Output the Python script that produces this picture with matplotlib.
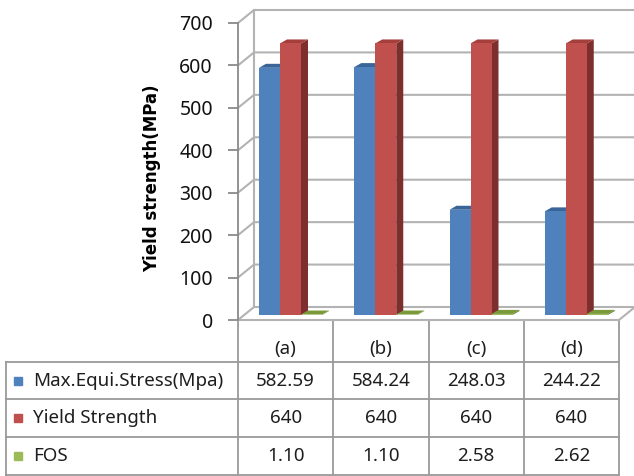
import matplotlib.pyplot as plt
from matplotlib.patches import Polygon, Rectangle

categories = ['(a)', '(b)', '(c)', '(d)']
series_names = ['Max.Equi.Stress(Mpa)', 'Yield Strength', 'FOS']
max_stress = [582.59, 584.24, 248.03, 244.22]
yield_strength = [640, 640, 640, 640]
fos = [1.10, 1.10, 2.58, 2.62]
table_text = [['582.59', '584.24', '248.03', '244.22'],
              ['640', '640', '640', '640'],
              ['1.10', '1.10', '2.58', '2.62']]
y_ticks = [0, 100, 200, 300, 400, 500, 600, 700]

front = ['#4F81BD', '#C0504D', '#9BBB59']
tops = ['#3A6598', '#A43F3C', '#7A9A3A']
sides = ['#2F5180', '#7E2F2D', '#60792C']

plt.rcParams['font.family'] = ['Noto Sans', 'DejaVu Sans']

W, H = 634, 476
fig = plt.figure(figsize=(W / 100, H / 100), dpi=100)

# pixel geometry
x0_px, y0_px = 238, 320      # front-left corner of floor
col_px = 95.25               # width of one category
px_per_mpa = 0.4243
wall_dx_px, wall_dy_px = 16, 13
bar_dx_px, bar_dy_px = 7, 4

# overlay in pixel coords for the data table
tab = fig.add_axes([0, 0, 1, 1])
tab.set_xlim(0, W)
tab.set_ylim(H, 0)
tab.axis('off')

line_c = '#9a9a9a'
cols = [x0_px + i * col_px for i in range(5)]
row_y = [362, 399, 437, 475]
for x in cols:
    tab.plot([x, x], [y0_px, row_y[-1]], color=line_c, lw=1.3)
tab.plot([6, 6], [row_y[0], row_y[-1]], color=line_c, lw=1.3)
for y in row_y:
    tab.plot([6, cols[-1]], [y, y], color=line_c, lw=1.3)

txt_c = '#1e1e1e'
fs = 13.5
for i, c in enumerate(categories):
    tab.text(cols[i] + col_px / 2, 349, c, ha='center', va='center', fontsize=fs, color=txt_c)
for r in range(3):
    yc = (row_y[r] + row_y[r + 1]) / 2
    tab.add_patch(Rectangle((14, yc - 4), 8, 8, color=front[r]))
    tab.text(33, yc, series_names[r], ha='left', va='center', fontsize=fs, color=txt_c)
    for i in range(4):
        tab.text(cols[i] + col_px / 2, yc, table_text[r][i], ha='center', va='center',
                 fontsize=fs, color=txt_c)

tab.text(152, 178, 'Yield strength(MPa)', rotation=90, ha='center', va='center',
         fontsize=12, fontweight='bold', color='black', family='DejaVu Sans')

# main plot area in data units
ax = fig.add_axes([x0_px / W, (H - y0_px) / H, (W - x0_px) / W, y0_px / H])
ax.patch.set_alpha(0)
ax.set_xlim(0, (W - x0_px) / col_px)
ax.set_ylim(0, y0_px / px_per_mpa)
for s in ['top', 'right', 'bottom']:
    ax.spines[s].set_visible(False)
ax.spines['left'].set_bounds(0, 700)
ax.spines['left'].set_color('#8a8a8a')
ax.spines['left'].set_linewidth(1.3)
ax.set_xticks([])
ax.set_yticks(y_ticks)
ax.tick_params(axis='y', direction='out', length=7, width=1.3, color='#8a8a8a',
               pad=11, labelsize=14, labelcolor='#111111')

wdx = wall_dx_px / col_px
wdy = wall_dy_px / px_per_mpa
xr = ax.get_xlim()[1]
grid_c = '#b3b3b3'
for v in y_ticks:
    ax.plot([0, wdx, xr + 0.1], [v, v + wdy, v + wdy], color=grid_c, lw=1.5, zorder=1,
            clip_on=False)
ax.plot([wdx, wdx], [wdy, 700 + wdy], color=grid_c, lw=1.5, zorder=1)
ax.plot([0, 4, 4 + wdx], [0, 0, wdy], color=grid_c, lw=1.5, zorder=1, clip_on=False)

bdx = bar_dx_px / col_px
bdy = bar_dy_px / px_per_mpa
base = 5 / px_per_mpa
bw = 21 / col_px
start = 21 / col_px
values = [max_stress, yield_strength, fos]
z = 3
for i in range(4):
    for k in range(3):
        left = i + start + k * bw
        top = base + values[k][i]
        ax.add_patch(Polygon([(left + bw, base), (left + bw + bdx, base + bdy),
                              (left + bw + bdx, top + bdy), (left + bw, top)],
                             closed=True, facecolor=sides[k], edgecolor='none', zorder=z))
        ax.add_patch(Polygon([(left, top), (left + bdx, top + bdy),
                              (left + bw + bdx, top + bdy), (left + bw, top)],
                             closed=True, facecolor=tops[k], edgecolor='none', zorder=z))
        ax.add_patch(Rectangle((left, base), bw, values[k][i], facecolor=front[k],
                               edgecolor='none', zorder=z))
        z += 1

fig.savefig('out.png', dpi=100)
